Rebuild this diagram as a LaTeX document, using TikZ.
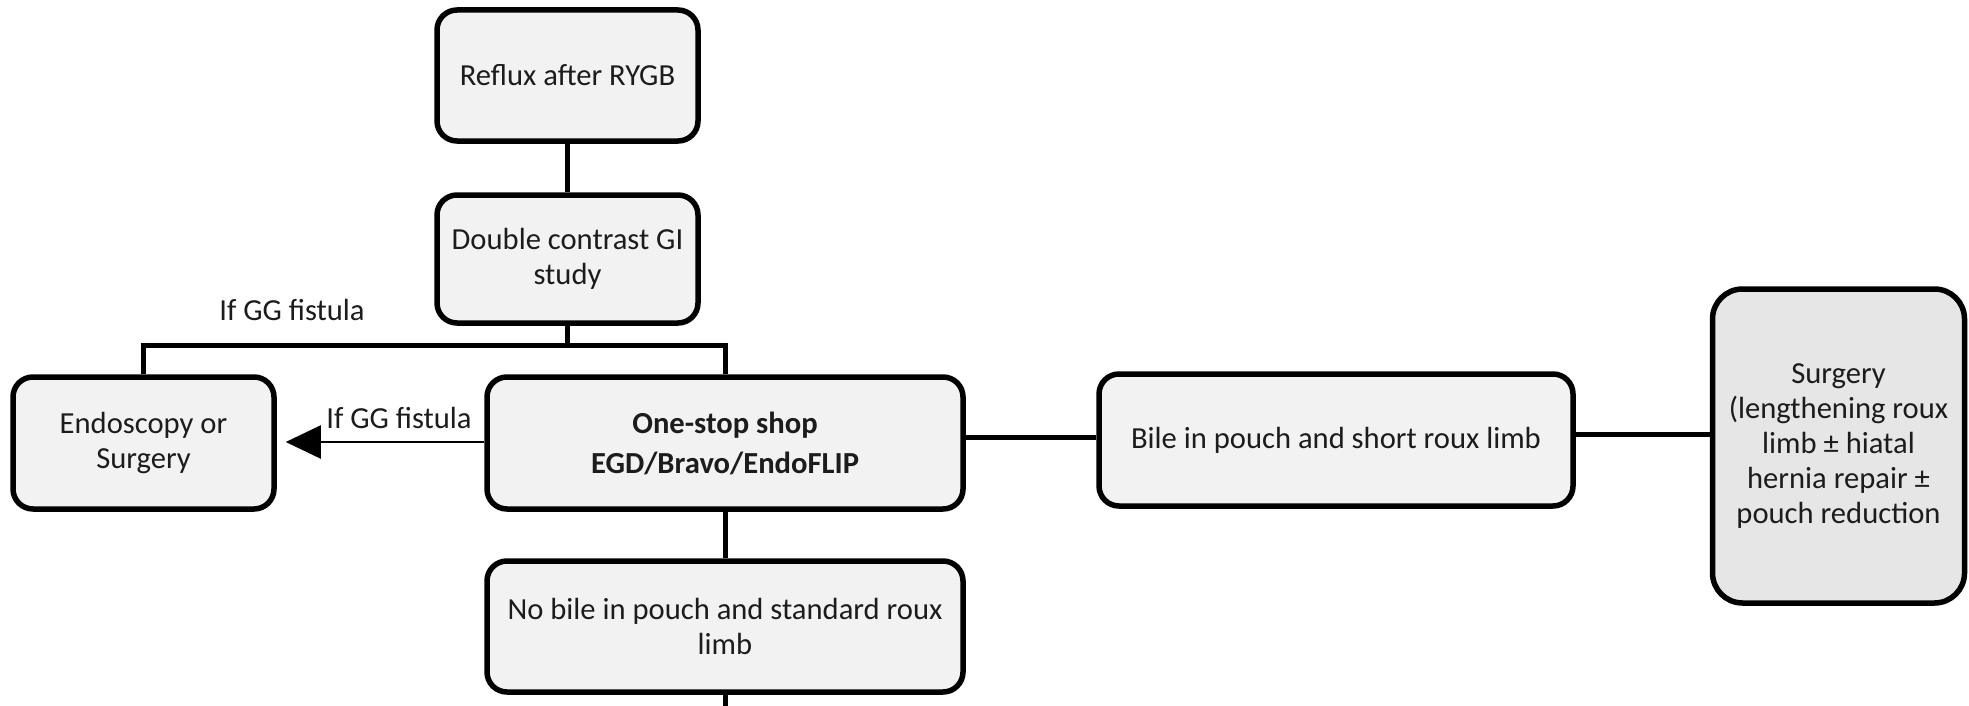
\documentclass[tikz,border=0pt]{standalone}
\usepackage{fontspec}
\setmainfont{Carlito}
\usetikzlibrary{arrows.meta}
\definecolor{boxgray}{HTML}{F2F2F2}
\definecolor{boxgraydark}{HTML}{E6E6E6}
\definecolor{textgray}{HTML}{1C1C1C}
\begin{document}
\begin{tikzpicture}[x=0.5pt,y=-0.5pt,
  box/.style={draw=black, line width=2.75pt, fill=boxgray, rounded corners=10pt,
    align=center, font=\fontsize{15.3}{17.5}\selectfont, inner sep=0pt, text=textgray},
  conn/.style={line width=2.5pt, draw=black},
  lbl/.style={font=\fontsize{15.3}{17.5}\selectfont, text=textgray, inner sep=0pt},
  arr/.style={line width=1.1pt, draw=black, -{Triangle[length=17.5pt,width=16.5pt]}}
]
\useasboundingbox (0,0) rectangle (1969,706);

\node[box, minimum width=130.5pt, minimum height=65.5pt] (reflux) at (567.5,75.5) {Reflux after RYGB};
\node[box, minimum width=130.5pt, minimum height=64pt] (dcgi) at (567.5,259) {Double contrast GI\\study};
\node[box, minimum width=130.5pt, minimum height=66pt] (endo) at (143.5,443) {Endoscopy or\\Surgery};
\node[box, minimum width=238pt, minimum height=66pt] (onestop) at (725,443) {\bfseries One-stop shop\\[2.5pt]\bfseries EGD/Bravo/EndoFLIP};
\node[box, minimum width=237pt, minimum height=66pt] (bile) at (1336,440) {Bile in pouch and short roux limb};
\node[box, fill=boxgraydark, rounded corners=15pt, minimum width=126pt, minimum height=157pt] (surgery) at (1838.5,446) {Surgery\\(lengthening roux\\limb ± hiatal\\hernia repair ±\\pouch reduction};
\node[box, minimum width=238pt, minimum height=65.5pt] (nobile) at (725,626.5) {No bile in pouch and standard roux\\limb};

\coordinate (bar) at (567.5,345);
\coordinate (bottom) at (725,706);

\node[lbl] (lbl1) at (292,310) {If GG fistula};
\node[lbl] (lbl2) at (399,418) {If GG fistula};

\draw[conn] (reflux.south) -- (dcgi.north);
\draw[conn] (dcgi.south) -- (bar);
\draw[conn] (endo.north) |- (bar) -| (onestop.north);
\draw[arr, shorten >=4.5pt] (onestop.west |- 0,442) -- (endo.east |- 0,442);
\draw[conn] (onestop.east |- 0,437) -- (bile.west |- 0,437);
\draw[conn] (bile.east |- 0,434) -- (surgery.west |- 0,434);
\draw[conn] (onestop.south) -- (nobile.north);
\draw[conn] (nobile.south) -- (bottom);
\end{tikzpicture}
\end{document}
